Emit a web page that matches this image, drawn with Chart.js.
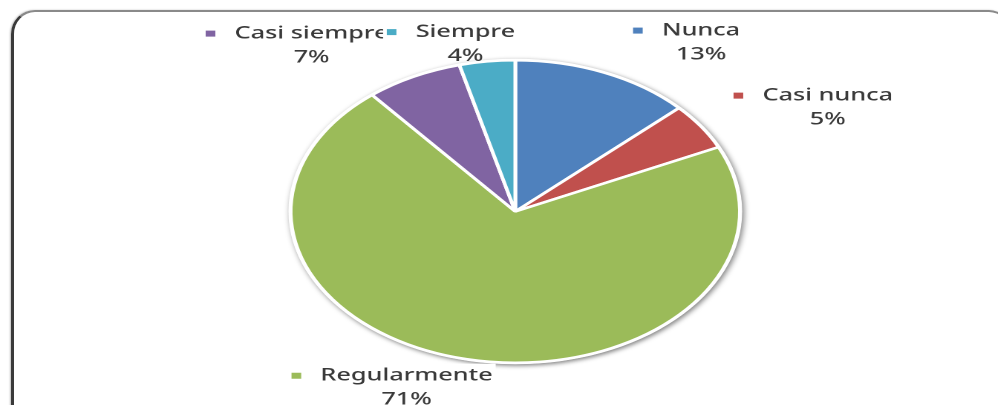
<!DOCTYPE html>
<html>
<head>
<meta charset="utf-8">
<script src="https://cdn.jsdelivr.net/npm/chart.js@4/dist/chart.umd.min.js"></script>
<style>
  html, body { margin: 0; padding: 0; background: #fff; overflow: hidden; }
  #page { position: relative; width: 998px; height: 405px; overflow: hidden; }
  #frame {
    position: absolute; left: 11px; top: 10px; width: 1000px; height: 420px;
    border: 2px solid #8a8a8a; border-left: 3px solid #3a3a3a;
    border-radius: 24px 22px 22px 22px;
    box-shadow: -1px 0 2px rgba(0,0,0,0.25);
    box-sizing: border-box;
  }
  #wrap { position: absolute; left: 0; top: 0; width: 672px; height: 405px;
    transform: scaleX(1.485); transform-origin: 0 0; }
</style>
</head>
<body>
<div id="page">
  <div id="frame"></div>
  <div id="wrap"><canvas id="pie" width="672" height="405"></canvas></div>
</div>
<script>
var categories = ['Nunca', 'Casi nunca', 'Regularmente', 'Casi siempre', 'Siempre'];
var values = [13, 5, 71, 7, 4];
var colors = ['#4f81bd', '#c0504d', '#9bbb59', '#8064a2', '#4bacc6'];

// where each label block sits, in pie radii from the centre (Excel "best fit")
var labelOffsets = [[0.827, -1.13], [1.391, -0.70], [-0.484, 1.152], [-0.907, -1.11], [-0.222, -1.12]];

var total = values.reduce(function (a, b) { return a + b; }, 0);

var pieShadow = {
  id: 'pieShadow',
  beforeDatasetsDraw: function (chart) {
    var arc = chart.getDatasetMeta(0).data[0];
    var ctx = chart.ctx;
    ctx.save();
    ctx.shadowColor = 'rgba(0,0,0,0.5)';
    ctx.shadowBlur = 8;
    ctx.shadowOffsetX = 2.5;
    ctx.shadowOffsetY = 3;
    ctx.fillStyle = '#fff';
    ctx.beginPath();
    ctx.arc(arc.x, arc.y, arc.outerRadius + 1.5, 0, Math.PI * 2);
    ctx.fill();
    ctx.restore();
  }
};

var pieLabels = {
  id: 'pieLabels',
  afterDatasetsDraw: function (chart) {
    var ctx = chart.ctx;
    var arcs = chart.getDatasetMeta(0).data;
    ctx.save();
    ctx.font = '500 17px "Noto Sans"';
    ctx.textAlign = 'center';
    ctx.textBaseline = 'middle';
    for (var i = 0; i < arcs.length; i++) {
      var a = arcs[i];
      var r = a.outerRadius;
      var cx = a.x + labelOffsets[i][0] * r;
      var cy = a.y + labelOffsets[i][1] * r;
      var name = categories[i];
      var pct = Math.round(values[i] / total * 100) + '%';
      var w = ctx.measureText(name).width;
      var left = cx - w / 2;
      // white box so later labels cover earlier ones
      ctx.fillStyle = '#fff';
      ctx.fillRect(left - 22, cy - 22, w + 24, 22);
      ctx.fillStyle = colors[i];
      ctx.fillRect(left - 19.5, cy - 13, 6.5, 6);
      ctx.fillStyle = '#3a3a3a';
      ctx.fillText(name, cx, cy - 10);
      ctx.fillText(pct, cx, cy + 14);
    }
    ctx.restore();
  }
};

new Chart(document.getElementById('pie'), {
  type: 'pie',
  data: {
    labels: categories,
    datasets: [{
      data: values,
      backgroundColor: colors,
      borderColor: '#ffffff',
      borderWidth: 2.5
    }]
  },
  options: {
    responsive: false,
    devicePixelRatio: 2,
    animation: false,
    layout: { padding: { left: 22, right: 0, top: 59, bottom: 41 } },
    plugins: {
      legend: { display: false },
      tooltip: { enabled: false }
    }
  },
  plugins: [pieShadow, pieLabels]
});
</script>
</body>
</html>
